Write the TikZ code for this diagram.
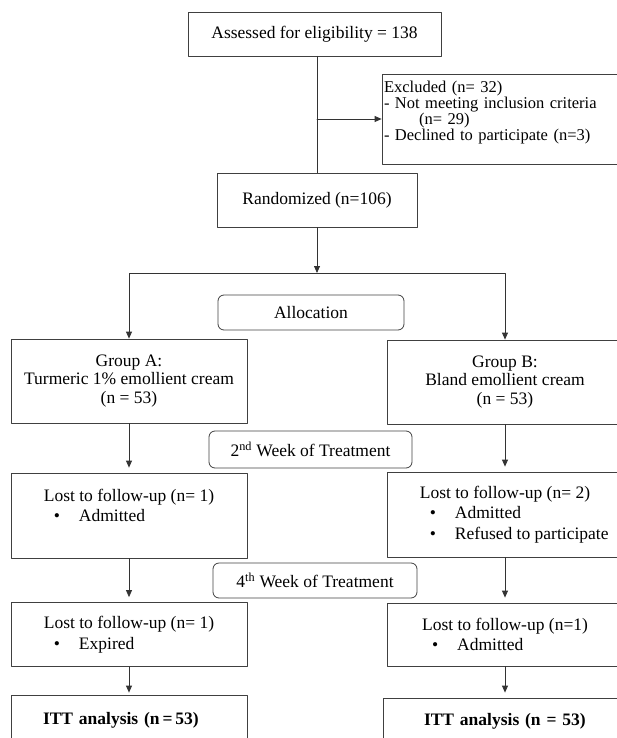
\documentclass[tikz,border=0pt]{standalone}
\usepackage{fontspec}
\setmainfont{Liberation Serif}
\usetikzlibrary{arrows.meta}
\tikzset{>={Triangle[length=7pt,width=6pt]}}
\tikzset{
  box/.style={draw=black!75, line width=0.8pt, inner sep=2pt, font=\fontsize{17.5}{18.5}\selectfont},
  stagebox/.style={box, rounded corners=6pt},
  lostbox/.style={box, minimum width=236pt, align=left, font=\fontsize{17.5}{20.5}\selectfont},
  flow/.style={->, draw=black!80, line width=0.8pt},
}
\begin{document}
\begin{tikzpicture}[x=1pt, y=-1pt, line cap=round, line join=round]

\useasboundingbox (0,0) rectangle (616,738);

\node[box, minimum width=253pt, minimum height=44pt] (assess) at (314.5,34) {Assessed for eligibility = 138};

\node[box, minimum width=238pt, minimum height=90pt, text width=234pt, align=left, font=\fontsize{16.5}{16}\selectfont] (excl) at (501,119)
  {Excluded (n= 32)\\- Not meeting inclusion criteria\\\hspace*{35pt}(n= 29)\\- Declined to participate (n=3)\\\mbox{}};

\node[box, minimum width=200pt, minimum height=54pt] (rand) at (317,200) {Randomized (n=106)};

\node[stagebox, minimum width=186pt, minimum height=35pt] (alloc) at (311,312.5) {Allocation};

\node[box, minimum width=236pt, minimum height=84pt, align=center] (grpA) at (129,381) {Group A:\\Turmeric 1\% emollient cream\\(n = 53)};
\node[box, minimum width=236pt, minimum height=84pt, align=center] (grpB) at (505,382) {Group B:\\Bland emollient cream\\(n = 53)};

\node[stagebox, minimum width=203pt, minimum height=37pt] (wk2) at (310.5,449.5) {2\textsuperscript{nd} Week of Treatment};

\node[lostbox, minimum height=85pt] (lostA1) at (129,515.5) {Lost to follow-up (n= 1)\\\hspace*{10pt}\textbullet\hspace{19pt}Admitted\\\mbox{}};
\node[lostbox, minimum height=85pt] (lostB1) at (505,514.5) {Lost to follow-up (n= 2)\\\hspace*{10pt}\textbullet\hspace{19pt}Admitted\\\hspace*{10pt}\textbullet\hspace{19pt}\rlap{Refused to participate}};

\node[stagebox, minimum width=204pt, minimum height=35pt] (wk4) at (315,580.5) {4\textsuperscript{th} Week of Treatment};

\node[lostbox, minimum height=64pt] (lostA2) at (129,634.5) {Lost to follow-up (n= 1)\\\hspace*{10pt}\textbullet\hspace{19pt}Expired};
\node[lostbox, minimum height=63pt] (lostB2) at (505,634.5) {Lost to follow-up (n=1)\\\hspace*{10pt}\textbullet\hspace{19pt}Admitted};

\node[box, inner xsep=32pt, text width=172pt, align=left, minimum height=50pt] (ittA) at (129,720) {\bfseries ITT analysis (n\,=\,53)};
\node[box, inner xsep=41pt, text width=170pt, align=left, minimum height=46pt] (ittB) at (509,721) {\bfseries ITT analysis (n = 53)};

\draw[draw=black!80, line width=0.8pt] (rand.north) -- (rand.north |- assess.south);
\coordinate (exclpt) at (rand.north |- excl.west);
\draw[flow] (exclpt) -- (excl.west);

\coordinate (fork) at (317,273);
\draw[flow] (rand.south) -- (fork);
\draw[flow] (fork) -| (grpA.north);
\draw[flow] (fork) -| (grpB.north);

\draw[flow, shorten >=5pt] (grpA.south) -- (lostA1.north);
\draw[flow, shorten >=5pt] (grpB.south) -- (lostB1.north);
\draw[flow, shorten >=5pt] (lostA1.south) -- (lostA2.north);
\draw[flow, shorten >=5pt] (lostB1.south) -- (lostB2.north);
\draw[flow, shorten >=2pt] (lostA2.south) -- (ittA.north);
\draw[flow, shorten >=5pt] (lostB2.south) -- (lostB2.south |- ittB.north);

\end{tikzpicture}
\end{document}
